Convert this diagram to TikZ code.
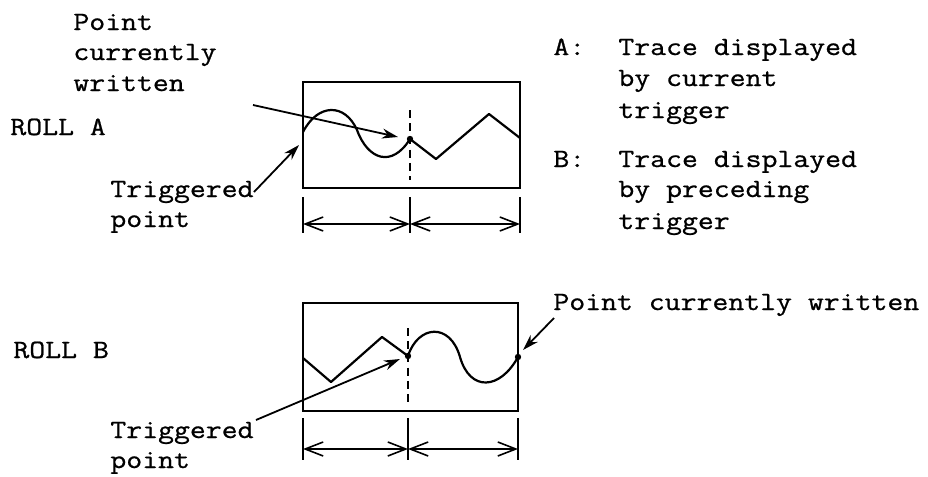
\documentclass[tikz,border=0pt]{standalone}
\usepackage{fontspec}
\newfontfamily\twfont{Latin Modern Mono}[FakeStretch=1.17,FakeBold=0.8]
\usetikzlibrary{arrows.meta}
\begin{document}
\begin{tikzpicture}[x=0.5pt,y=-0.5pt,
  lbl/.style={anchor=base west,inner sep=0pt,font=\twfont\fontsize{13.2}{15}\selectfont},
  frame/.style={line width=1pt},
  trace/.style={line width=1.1pt,line join=round},
  dashline/.style={line width=0.9pt,dash pattern=on 4pt off 2.6pt},
  tick/.style={line width=0.8pt},
  dim/.style={line width=0.8pt,{Straight Barb[length=9pt,width=7pt]}-{Straight Barb[length=9pt,width=7pt]}},
  leader/.style={line width=0.9pt,-{Stealth[length=8pt,width=5pt]}},
  dot/.style={circle,fill,inner sep=0pt,minimum size=3.2pt}]
\useasboundingbox (0,0) rectangle (928,477);

% ---------------- ROLL A ----------------
\node[lbl] (pcw1) at (73,30) {Point};
\node[lbl] (pcw2) at (73,60) {currently};
\node[lbl] (pcw3) at (73,91) {written};
\node[lbl] (rollA) at (10,135) {ROLL A};
\node[lbl] (trA1) at (110,197) {Triggered};
\node[lbl] (trA2) at (110,227) {point};

\draw[frame] (303,82) rectangle (520,188);
\draw[dashline] (410,110) -- (410,180);
\draw[trace] (303,132) .. controls (318,103) and (345,103) .. (357,130)
  .. controls (368,160) and (392,168) .. (410,139)
  -- (436,159) -- (489,114) -- (520,138);
\node[dot] (curA) at (410,139) {};

\draw[tick] (303,197) -- (303,233);
\draw[tick] (410,197) -- (410,233);
\draw[tick] (520,197) -- (520,233);
\draw[dim] (303,224) -- (410,224);
\draw[dim] (410,224) -- (520,224);

\coordinate (tailA1) at (253,105);
\coordinate (tipA1) at (398,137);
\draw[leader] (tailA1) -- (tipA1);
\coordinate (tailA2) at (254,192);
\coordinate (tipA2) at (299,145);
\draw[leader] (tailA2) -- (tipA2);

% legend
\node[lbl] (la) at (553,55) {A:};
\node[lbl] (la1) at (618,55) {Trace displayed};
\node[lbl] (la2) at (618,86) {by current};
\node[lbl] (la3) at (618,118) {trigger};
\node[lbl] (lb) at (553,167) {B:};
\node[lbl] (lb1) at (618,167) {Trace displayed};
\node[lbl] (lb2) at (618,197) {by preceding};
\node[lbl] (lb3) at (618,229) {trigger};

% ---------------- ROLL B ----------------
\node[lbl] (rollB) at (13,358) {ROLL B};
\node[lbl] (trB1) at (110,438) {Triggered};
\node[lbl] (trB2) at (110,468) {point};
\node[lbl] (pcwB) at (553,310) {Point currently written};

\draw[frame] (303,303) rectangle (518,411);
\draw[dashline] (408,328) -- (408,405);
\draw[trace] (303,358) -- (331,382) -- (382,337) -- (408,356)
  .. controls (418,325) and (450,322) .. (460,357)
  .. controls (470,392) and (500,390) .. (518,357);
\node[dot] (trigB) at (408,356) {};
\node[dot] (curB) at (518,357) {};

\draw[tick] (303,418) -- (303,460);
\draw[tick] (408,418) -- (408,460);
\draw[tick] (518,418) -- (518,460);
\draw[dim] (303,449) -- (408,449);
\draw[dim] (408,449) -- (518,449);

\coordinate (tailB1) at (256,420);
\coordinate (tipB1) at (400,359);
\draw[leader] (tailB1) -- (tipB1);
\coordinate (tailB2) at (554,318);
\coordinate (tipB2) at (523,350);
\draw[leader] (tailB2) -- (tipB2);
\end{tikzpicture}
\end{document}
